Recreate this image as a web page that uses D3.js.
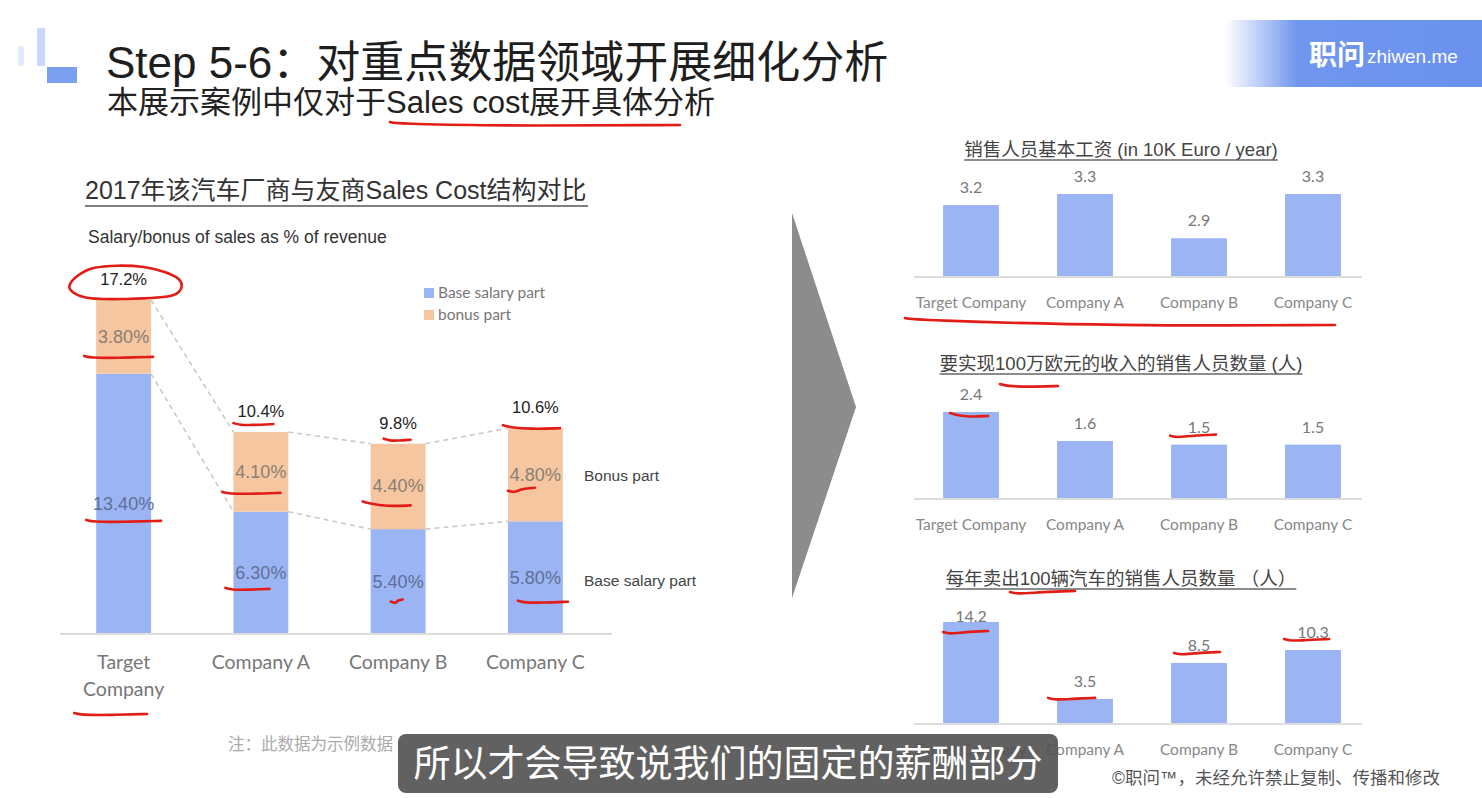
<!DOCTYPE html>
<html lang="zh">
<head>
<meta charset="UTF-8">
<title>Sales Cost 结构对比</title>
<script src="https://cdn.jsdelivr.net/npm/d3@7"></script>
<style>
  body { margin: 0; background: #fff; }
  text { font-family: "Liberation Sans", "Noto Sans CJK SC", sans-serif; }
  .cal { font-family: Lato, "Noto Sans CJK SC", sans-serif; }
</style>
</head>
<body>
<svg id="slide" width="1482" height="798"></svg>
<script>
// left chart: salary/bonus of sales as % of revenue
var companies = ['Target Company', 'Company A', 'Company B', 'Company C'];
var baseSalary = [13.4, 6.3, 5.4, 5.8];
var bonusPart = [3.8, 4.1, 4.4, 4.8];
var totals = [17.2, 10.4, 9.8, 10.6];

// right charts
var baseWage = [3.2, 3.3, 2.9, 3.3];          // 10K Euro / year
var staffPerMillion = [2.4, 1.6, 1.5, 1.5];   // 人
var staffPer100Cars = [14.2, 3.5, 8.5, 10.3]; // 人

var BLUE = '#9bb4f3', PEACH = '#f5c6a0', RED = '#e11d15';

var svg = d3.select('#slide');

// ---------- header ----------
svg.append('rect').attr('x', 18).attr('y', 46).attr('width', 6).attr('height', 20).attr('fill', '#e3eafc');
svg.append('rect').attr('x', 37).attr('y', 28).attr('width', 8).attr('height', 38).attr('fill', '#c9d7fa');
svg.append('rect').attr('x', 47).attr('y', 67).attr('width', 30).attr('height', 16).attr('fill', '#7d9ff0');

svg.append('text').attr('x', 106).attr('y', 78).attr('font-size', 44).attr('fill', '#1e1e1e')
  .text('Step 5-6：对重点数据领域开展细化分析');
svg.append('text').attr('x', 107).attr('y', 113).attr('font-size', 31).attr('fill', '#222')
  .text('本展示案例中仅对于Sales cost展开具体分析');

var grad = svg.append('defs').append('linearGradient').attr('id', 'bannerGrad');
grad.append('stop').attr('offset', '0%').attr('stop-color', '#7096ee').attr('stop-opacity', 0);
grad.append('stop').attr('offset', '28%').attr('stop-color', '#7096ee').attr('stop-opacity', 1);
grad.append('stop').attr('offset', '100%').attr('stop-color', '#6a92ee').attr('stop-opacity', 1);
svg.append('rect').attr('x', 1225).attr('y', 20).attr('width', 257).attr('height', 67).attr('fill', 'url(#bannerGrad)');
svg.append('text').attr('x', 1309).attr('y', 65).attr('font-size', 28).attr('font-weight', 'bold')
  .attr('fill', '#fff').text('职问');
svg.append('text').attr('x', 1367).attr('y', 63).attr('font-size', 19).attr('fill', '#fff').text('zhiwen.me');

// ---------- left chart ----------
svg.append('text').attr('x', 85).attr('y', 199).attr('font-size', 25).attr('fill', '#333')
  .text('2017年该汽车厂商与友商Sales Cost结构对比');
svg.append('line').attr('x1', 85).attr('x2', 588).attr('y1', 206).attr('y2', 206)
  .attr('stroke', '#555').attr('stroke-width', 1.5);
svg.append('text').attr('x', 88).attr('y', 243).attr('font-size', 17.5).attr('fill', '#333')
  .text('Salary/bonus of sales as % of revenue');

var rows = companies.map(function (c, i) {
  return { company: c, base: baseSalary[i], bonus: bonusPart[i], total: totals[i] };
});

var x = d3.scaleBand().domain(companies).range([55, 604]).paddingInner(0.6).paddingOuter(0.3);
var y = d3.scaleLinear().domain([0, 17.2]).range([634, 300]);
var bw = x.bandwidth();

var stack = d3.stack().keys(['base', 'bonus'])(rows);
var colors = { base: BLUE, bonus: PEACH };

var left = svg.append('g');
left.selectAll('g.layer').data(stack).enter().append('g')
  .attr('fill', function (d) { return colors[d.key]; })
  .selectAll('rect').data(function (d) { return d; }).enter().append('rect')
  .attr('x', function (d) { return x(d.data.company); })
  .attr('y', function (d) { return y(d[1]); })
  .attr('width', bw)
  .attr('height', function (d) { return y(d[0]) - y(d[1]); });

left.append('line').attr('x1', 60).attr('x2', 612).attr('y1', y(0)).attr('y2', y(0))
  .attr('stroke', '#dcdcdc').attr('stroke-width', 2);

// dashed connectors between bars
var connect = function (acc) {
  for (var i = 0; i < rows.length - 1; i++) {
    left.append('line')
      .attr('x1', x(rows[i].company) + bw).attr('y1', y(acc(rows[i])))
      .attr('x2', x(rows[i + 1].company)).attr('y2', y(acc(rows[i + 1])))
      .attr('stroke', '#c9c9c9').attr('stroke-width', 1.6).attr('stroke-dasharray', '5,4');
  }
};
connect(function (r) { return r.base + r.bonus; });
connect(function (r) { return r.base; });

// segment labels
stack.forEach(function (layer) {
  left.selectAll(null).data(layer).enter().append('text')
    .attr('x', function (d) { return x(d.data.company) + bw / 2; })
    .attr('y', function (d) { return (y(d[0]) + y(d[1])) / 2 + 6; })
    .attr('text-anchor', 'middle').attr('font-size', 18)
    .attr('fill', layer.key === 'base' ? '#5f6f96' : '#8a7f74')
    .text(function (d) { return (d[1] - d[0]).toFixed(2) + '%'; });
});
left.selectAll(null).data(rows).enter().append('text')
  .attr('x', function (d) { return x(d.company) + bw / 2; })
  .attr('y', function (d) { return y(d.base + d.bonus) - 15; })
  .attr('text-anchor', 'middle').attr('font-size', 16.5).attr('fill', '#222')
  .text(function (d) { return d.total.toFixed(1) + '%'; });

// category labels
left.selectAll(null).data(companies).enter().append('text')
  .attr('class', 'cal')
  .attr('x', function (d) { return x(d) + bw / 2; })
  .attr('y', 669)
  .attr('text-anchor', 'middle').attr('font-size', 19.5).attr('fill', '#777')
  .each(function (d) {
    var t = d3.select(this);
    if (d === 'Target Company') {
      t.append('tspan').attr('x', x(d) + bw / 2).attr('dy', 0).text('Target');
      t.append('tspan').attr('x', x(d) + bw / 2).attr('dy', 27).text('Company');
    } else {
      t.text(d);
    }
  });

// legend
var legendItems = [['Base salary part', BLUE], ['bonus part', PEACH]];
legendItems.forEach(function (it, i) {
  left.append('rect').attr('x', 424).attr('y', 288 + i * 22).attr('width', 10).attr('height', 10).attr('fill', it[1]);
  left.append('text').attr('class', 'cal').attr('x', 438).attr('y', 298 + i * 22)
    .attr('font-size', 15.5).attr('fill', '#777').text(it[0]);
});
var last = rows[rows.length - 1];
left.append('text').attr('x', 584).attr('y', (y(last.base) + y(last.base + last.bonus)) / 2 + 6)
  .attr('font-size', 15.5).attr('fill', '#444').text('Bonus part');
left.append('text').attr('x', 584).attr('y', (y(0) + y(last.base)) / 2 + 8)
  .attr('font-size', 15.5).attr('fill', '#444').text('Base salary part');

svg.append('text').attr('x', 228).attr('y', 750).attr('font-size', 16.5).attr('fill', '#aaa')
  .text('注：此数据为示例数据');

// ---------- arrow ----------
svg.append('path').attr('d', 'M792,213 L856,407 L792,598 Z').attr('fill', '#8c8c8c');

// ---------- right charts ----------
var xr = d3.scaleBand().domain(companies).range([914, 1370]).paddingInner(0.51).paddingOuter(0.255);
var bwr = xr.bandwidth();

function miniChart(values, opt) {
  var yy = d3.scaleLinear().domain(opt.domain).range([opt.baseline, opt.top]);
  var g = svg.append('g');
  g.append('text').attr('x', 1121).attr('y', opt.titleY).attr('text-anchor', 'middle')
    .attr('font-size', 18.5).attr('fill', '#444').text(opt.title);
  var tw = g.select('text').node().getComputedTextLength();
  g.append('line').attr('x1', 1121 - tw / 2).attr('x2', 1121 + tw / 2)
    .attr('y1', opt.titleY + 4).attr('y2', opt.titleY + 4).attr('stroke', '#666').attr('stroke-width', 1.3);
  g.selectAll('rect').data(values).enter().append('rect')
    .attr('x', function (d, i) { return xr(companies[i]); })
    .attr('y', function (d) { return yy(d); })
    .attr('width', bwr)
    .attr('height', function (d) { return opt.baseline - yy(d); })
    .attr('fill', BLUE);
  g.append('line').attr('x1', 914).attr('x2', 1362).attr('y1', opt.baseline).attr('y2', opt.baseline)
    .attr('stroke', '#dcdcdc').attr('stroke-width', 2);
  g.selectAll(null).data(values).enter().append('text').attr('class', 'cal')
    .attr('x', function (d, i) { return xr(companies[i]) + bwr / 2; })
    .attr('y', function (d) { return Math.max(yy(d) - 12, opt.plotTop); })
    .attr('text-anchor', 'middle').attr('font-size', 16).attr('fill', '#777')
    .text(function (d) { return d.toFixed(1); });
  g.selectAll(null).data(companies).enter().append('text').attr('class', 'cal')
    .attr('x', function (d) { return xr(d) + bwr / 2; })
    .attr('y', opt.baseline + 31)
    .attr('text-anchor', 'middle').attr('font-size', 15.5).attr('fill', '#888')
    .text(function (d) { return d; });
  return yy;
}

var y1 = miniChart(baseWage, { domain: [2.55, 3.3], baseline: 277, top: 194, plotTop: 170,
  titleY: 156, title: '销售人员基本工资 (in 10K Euro / year)' });
var y2 = miniChart(staffPerMillion, { domain: [0, 2.4], baseline: 499, top: 412, plotTop: 385,
  titleY: 370, title: '要实现100万欧元的收入的销售人员数量 (人)' });
var y3 = miniChart(staffPer100Cars, { domain: [0, 14.2], baseline: 724, top: 622, plotTop: 622,
  titleY: 585, title: '每年卖出100辆汽车的销售人员数量 （人）' });

// ---------- presenter's red pen marks ----------
var pen = svg.append('g').attr('fill', 'none').attr('stroke', RED).attr('stroke-width', 2.6)
  .attr('stroke-linecap', 'round').attr('stroke-linejoin', 'round');
function stroke(x1, x2, yv, dy) {
  dy = dy || 0;
  var m = (x1 + x2) / 2;
  pen.append('path').attr('d', d3.line().curve(d3.curveBasis)([[x1, yv - 2], [x1 + 6, yv], [m, yv + dy], [x2, yv + dy - 1]]));
}
var cx = function (i) { return x(companies[i]); };
var rx = function (i) { return xr(companies[i]); };
var mid = function (i, key) {
  return key === 'base' ? (y(0) + y(rows[i].base)) / 2 : (y(rows[i].base) + y(rows[i].base + rows[i].bonus)) / 2;
};

// ellipse round 17.2%
var ey = y(rows[0].base + rows[0].bonus) - 17, ex = cx(0) + bw / 2;
pen.append('path').attr('d', d3.line().curve(d3.curveCardinalClosed)([
  [ex - 54, ey + 2], [ex - 30, ey - 15], [ex + 20, ey - 16], [ex + 55, ey - 4], [ex + 50, ey + 12], [ex, ey + 16], [ex - 40, ey + 14]
]));
stroke(390, 680, 124, 2);
stroke(cx(0) - 12, cx(0) + bw + 2, mid(0, 'bonus') + 21);
stroke(cx(0) - 10, cx(0) + bw + 10, mid(0, 'base') + 18);
stroke(cx(0) - 22, cx(0) + bw - 4, 715);
stroke(cx(1), cx(1) + 40, y(totals[1]) - 7);
stroke(cx(1) - 11, cx(1) + 47, mid(1, 'bonus') + 22);
stroke(cx(1) - 8, cx(1) + 36, mid(1, 'base') + 17);
stroke(cx(2) + 13, cx(2) + 40, y(totals[2]) - 3);
stroke(cx(2) - 8, cx(2) + 40, mid(2, 'bonus') + 17, 3);
stroke(cx(2) + 20, cx(2) + 32, mid(2, 'base') + 22, -3);
stroke(cx(3) - 5, cx(3) + 52, y(totals[3]) - 1, 2);
stroke(cx(3), cx(3) + 27, mid(3, 'bonus') + 18, -4);
stroke(cx(3) + 10, cx(3) + 60, mid(3, 'base') + 25);

stroke(905, 1335, 320, 6);
stroke(1000, 1058, 386, 1);
stroke(rx(0) + 7, rx(0) + 45, y2(staffPerMillion[0]) + 3, 2);
stroke(rx(2) - 1, rx(2) + 45, y2(staffPerMillion[2]) - 7, -2);
stroke(1010, 1075, 594, -2);
stroke(rx(0), rx(0) + 45, y3(staffPer100Cars[0]) + 12, -2);
stroke(rx(1) - 9, rx(1) + 38, y3(staffPer100Cars[1]) + 1, -1);
stroke(rx(2) + 3, rx(2) + 49, y3(staffPer100Cars[2]) - 8, -2);
stroke(rx(3) - 1, rx(3) + 44, y3(staffPer100Cars[3]) - 9, -1);

// ---------- footer ----------
svg.append('text').attr('x', 1112).attr('y', 784).attr('font-size', 17.5).attr('fill', '#555')
  .text('©职问™，未经允许禁止复制、传播和修改');
svg.append('rect').attr('x', 398).attr('y', 734).attr('width', 660).attr('height', 59).attr('rx', 8)
  .attr('fill', '#505050').attr('fill-opacity', 0.9);
svg.append('text').attr('x', 728).attr('y', 777).attr('text-anchor', 'middle').attr('font-size', 37)
  .attr('fill', '#fff').text('所以才会导致说我们的固定的薪酬部分');
</script>
</body>
</html>
